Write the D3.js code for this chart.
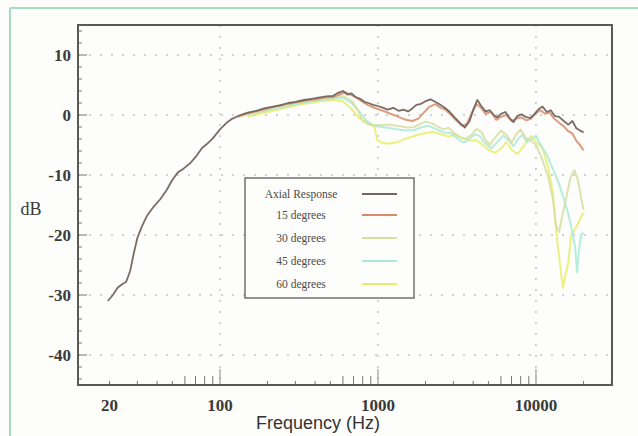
<!DOCTYPE html>
<html><head><meta charset="utf-8">
<script src="https://cdn.jsdelivr.net/npm/d3@7"></script>
<style>body{margin:0;background:#fdfdfb;}svg{display:block;}</style>
</head><body>
<script>
const seriesNames = ["Axial Response","15 degrees","30 degrees","45 degrees","60 degrees"];
const seriesColors = ["#73655f","#d68c68","#d7dea2","#a9ead6","#e6ee6a"];
const yTicks = [10,0,-10,-20,-30,-40];
const xTicks = [20,100,1000,10000];
const xTickLabels = ["20","100","1000","10000"];

const axial = [[19.5,-31],[21,-30],[22.5,-28.8],[24,-28.2],[25.5,-27.8],[27,-26],[28.5,-23],[30,-20.5],[32,-18.6],[34.5,-16.8],[38,-15.3],[42,-14],[46,-12.5],[50,-10.8],[54,-9.6],[59,-8.9],[65,-8.0],[71,-6.8],[77,-5.5],[83,-4.8],[90,-3.9],[100,-2.4],[110,-1.3],[120,-0.6],[135,0],[150,0.4],[170,0.7],[190,1.1],[210,1.3],[240,1.6],[270,2.0],[300,2.2],[340,2.5],[380,2.7],[420,2.9],[470,3.1],[520,3.2],[560,3.7],[600,4.0],[640,3.4],[680,3.6],[720,3.0],[770,2.7],[820,2.2],[870,2.0],[930,1.7],[1000,1.5],[1080,1.2],[1150,0.9],[1250,1.2],[1350,0.7],[1450,0.9],[1550,0.6],[1650,1.1],[1750,1.7],[1850,1.8],[2000,2.3],[2150,2.6],[2300,2.2],[2450,1.8],[2650,1.2],[2850,0.5],[3050,-0.4],[3300,-1.3],[3550,-2.1],[3800,-1.0],[4000,0.8],[4250,2.5],[4500,1.5],[4800,0.6],[5100,0.8],[5400,0.0],[5700,-0.4],[6000,0.2],[6400,0.5],[6800,-0.5],[7200,-1.2],[7600,-0.2],[8100,0.1],[8600,-0.3],[9200,-0.5],[9800,0.2],[10400,1.0],[11000,1.4],[11700,0.5],[12400,0.8],[13200,-0.2],[14000,-0.3],[15000,-1.0],[16000,-1.6],[17000,-1.0],[18000,-2.2],[19000,-2.6],[20000,-2.9]];

const deg15 = [[130,-0.2],[150,0.3],[180,0.8],[220,1.4],[260,1.8],[300,2.1],[350,2.4],[400,2.6],[460,2.9],[520,3.0],[580,3.5],[620,3.8],[680,3.3],[740,2.8],[800,2.2],[870,1.6],[950,1.2],[1000,1.0],[1100,0.6],[1200,0.2],[1350,-0.3],[1500,-0.8],[1650,-1.0],[1800,-0.6],[1950,0.4],[2100,1.3],[2300,1.8],[2500,1.2],[2700,0.8],[2900,0.0],[3100,-0.8],[3400,-1.8],[3650,-1.5],[3900,0.2],[4200,1.8],[4500,1.2],[4800,0.2],[5200,0.5],[5600,-0.8],[6000,-0.3],[6500,0.0],[7000,-1.0],[7500,-0.6],[8100,-0.4],[8700,-0.9],[9300,-0.6],[10000,0.3],[10700,0.8],[11400,0.2],[12200,0.4],[13000,-0.6],[14000,-1.3],[15000,-1.9],[16000,-2.7],[17000,-3.1],[18000,-4.3],[19000,-5.0],[20000,-5.9]];

const deg30 = [[130,-0.4],[150,0.1],[180,0.5],[220,1.2],[260,1.6],[300,2.0],[350,2.3],[400,2.5],[460,2.7],[520,2.9],[580,3.2],[620,3.0],[680,2.4],[740,1.0],[800,-1.0],[870,-1.6],[950,-1.7],[1050,-1.7],[1150,-1.6],[1250,-1.7],[1400,-1.9],[1550,-2.1],[1700,-2.0],[1850,-1.5],[2000,-1.1],[2200,-1.4],[2400,-2.0],[2600,-2.4],[2800,-2.1],[3000,-2.9],[3300,-3.7],[3600,-4.0],[3900,-3.3],[4200,-2.3],[4500,-2.8],[4800,-4.2],[5100,-5.0],[5500,-3.8],[6000,-2.6],[6500,-3.3],[7000,-4.6],[7500,-3.2],[8000,-2.4],[8600,-3.8],[9200,-4.2],[10000,-5.0],[11000,-7.5],[12000,-10.5],[12800,-14],[13400,-18.5],[14000,-19.5],[14600,-17],[15500,-14],[16500,-10.5],[17500,-9.2],[18500,-11],[19300,-13.8],[20000,-15.8]];

const deg45 = [[150,0.0],[200,0.8],[260,1.4],[330,2.0],[420,2.4],[520,2.7],[600,2.9],[680,2.0],[760,0.6],[850,-1.0],[950,-1.8],[1050,-2.0],[1200,-2.2],[1350,-2.4],[1500,-2.6],[1700,-2.5],[1900,-2.0],[2100,-1.8],[2350,-2.4],[2600,-2.9],[2900,-3.0],[3200,-4.0],[3500,-4.6],[3800,-4.0],[4100,-3.2],[4400,-3.5],[4800,-4.8],[5200,-5.6],[5700,-4.5],[6200,-3.4],[6700,-4.2],[7200,-5.2],[7700,-4.0],[8200,-3.3],[8800,-4.5],[9400,-4.0],[10000,-3.5],[11000,-5.5],[11800,-6.8],[12800,-9],[14000,-11.5],[15000,-14],[16000,-16.5],[17000,-19.5],[17700,-22],[18200,-26.2],[18700,-22.5],[19300,-20],[20000,-19.6]];

const deg60 = [[150,-0.3],[200,0.5],[260,1.2],[330,1.8],[420,2.2],[520,2.5],[600,2.3],[680,1.0],[760,-0.5],[850,-1.2],[950,-2.0],[990,-4.2],[1050,-4.6],[1150,-4.8],[1300,-4.6],[1450,-4.1],[1600,-3.7],[1800,-3.3],[2000,-3.0],[2200,-2.8],[2500,-3.2],[2800,-3.6],[3100,-3.3],[3400,-3.8],[3800,-4.3],[4200,-4.2],[4600,-5.0],[5000,-5.8],[5500,-6.3],[6000,-5.6],[6500,-4.5],[7000,-5.8],[7600,-6.5],[8200,-5.5],[8800,-4.2],[9400,-3.5],[10000,-4.5],[11000,-5.5],[12000,-9],[12800,-13],[13500,-20],[14200,-25],[14800,-28.8],[15400,-26.5],[16000,-24.6],[16700,-20],[17500,-19.2],[18500,-18],[19300,-17],[20000,-16.3]];

const data = [axial, deg15, deg30, deg45, deg60];

const W = 638, H = 436;
const svg = d3.select("body").append("svg").attr("width", W).attr("height", H);
svg.append("rect").attr("width", W).attr("height", H).attr("fill", "#fdfdfb");

// outer greenish frame (top & left)
svg.append("line").attr("x1", 10).attr("y1", 8).attr("x2", W).attr("y2", 8).attr("stroke", "#a6dcc0").attr("stroke-width", 2);
svg.append("line").attr("x1", 10).attr("y1", 8).attr("x2", 10).attr("y2", H).attr("stroke", "#a6dcc0").attr("stroke-width", 2);

const L = 78, R = 612, T = 25, B = 385;
const x = d3.scaleLog().domain([12.63, 30270]).range([L, R]);
const y = d3.scaleLinear().domain([-45, 15]).range([B, T]);

// dotted grid
const grid = svg.append("g").attr("stroke", "#a8a8a8").attr("stroke-width", 1).attr("stroke-dasharray", "2,9");
xTicks.filter(d => d >= 100).forEach(t => {
  grid.append("line").attr("x1", x(t)).attr("x2", x(t)).attr("y1", T).attr("y2", B);
});
yTicks.forEach(t => {
  grid.append("line").attr("x1", L).attr("x2", R).attr("y1", y(t)).attr("y2", y(t));
});

// minor x ticks
const minorX = [];
[10,100,1000,10000].forEach(dec => { for (let k = 2; k <= 9; k++) { const v = dec * k; if (v > 12.63 && v < 30270) minorX.push(v); } });
const ax = svg.append("g").attr("stroke", "#777").attr("stroke-width", 1);
minorX.forEach(v => {
  const k = Math.round(v / Math.pow(10, Math.floor(Math.log10(v) + 1e-9)));
  const len = (k >= 6) ? 9 : 4;
  ax.append("line").attr("x1", x(v)).attr("x2", x(v)).attr("y1", B).attr("y2", B - len);
});
[100,1000,10000].forEach(v => {
  ax.append("line").attr("x1", x(v)).attr("x2", x(v)).attr("y1", B).attr("y2", B - 16).attr("stroke", "#888");
});
// y ticks
for (let v = -44; v <= 14; v += 2) {
  const major = v % 10 === 0;
  ax.append("line").attr("x1", L).attr("x2", L + (major ? 9 : 4)).attr("y1", y(v)).attr("y2", y(v));
}

// curves
const line = d3.line().x(d => x(d[0])).y(d => y(d[1]));
for (let i = data.length - 1; i >= 0; i--) {
  svg.append("path").attr("d", line(data[i])).attr("fill", "none")
    .attr("stroke", seriesColors[i]).attr("stroke-width", i === 0 ? 1.8 : 2)
    .attr("stroke-linejoin", "round").attr("opacity", i === 0 ? 0.95 : 0.85);
}

// plot frame
svg.append("rect").attr("x", L).attr("y", T).attr("width", R - L).attr("height", B - T)
  .attr("fill", "none").attr("stroke", "#5a5a55").attr("stroke-width", 2);

// tick labels
const serif = "'Liberation Serif','DejaVu Serif',serif";
svg.append("g").selectAll("text").data(yTicks).join("text")
  .attr("x", 71).attr("y", d => y(d) + 6).attr("text-anchor", "end")
  .attr("font-family", serif).attr("font-size", 17).attr("font-weight", "bold").attr("fill", "#3a3a3a")
  .text(d => d);
svg.append("g").selectAll("text").data(xTicks).join("text")
  .attr("x", d => x(d)).attr("y", 411).attr("text-anchor", "middle")
  .attr("font-family", serif).attr("font-size", 17).attr("font-weight", "bold").attr("fill", "#3a3a3a")
  .text((d, i) => xTickLabels[i]);

svg.append("text").attr("x", 31).attr("y", 215).attr("text-anchor", "middle")
  .attr("font-family", serif).attr("font-size", 18).attr("fill", "#3a3a3a").text("dB");
svg.append("text").attr("x", 318).attr("y", 429).attr("text-anchor", "middle")
  .attr("font-family", "'Liberation Sans',Arial,sans-serif").attr("font-size", 18).attr("fill", "#333").text("Frequency (Hz)");

// legend
const lg = svg.append("g");
lg.append("rect").attr("x", 245).attr("y", 178).attr("width", 169).attr("height", 120)
  .attr("fill", "#fdfdfb").attr("stroke", "#707070").attr("stroke-width", 1.5);
const legY = [194, 215, 238, 261, 284];
seriesNames.forEach((n, i) => {
  lg.append("text").attr("x", 301).attr("y", legY[i] + 4).attr("text-anchor", "middle")
    .attr("font-family", serif).attr("font-size", 11.5).attr("fill", "#4a4a4a").text(n);
  lg.append("line").attr("x1", 362).attr("x2", 397).attr("y1", legY[i]).attr("y2", legY[i])
    .attr("stroke", seriesColors[i]).attr("stroke-width", 2);
});
</script>
</body></html>
